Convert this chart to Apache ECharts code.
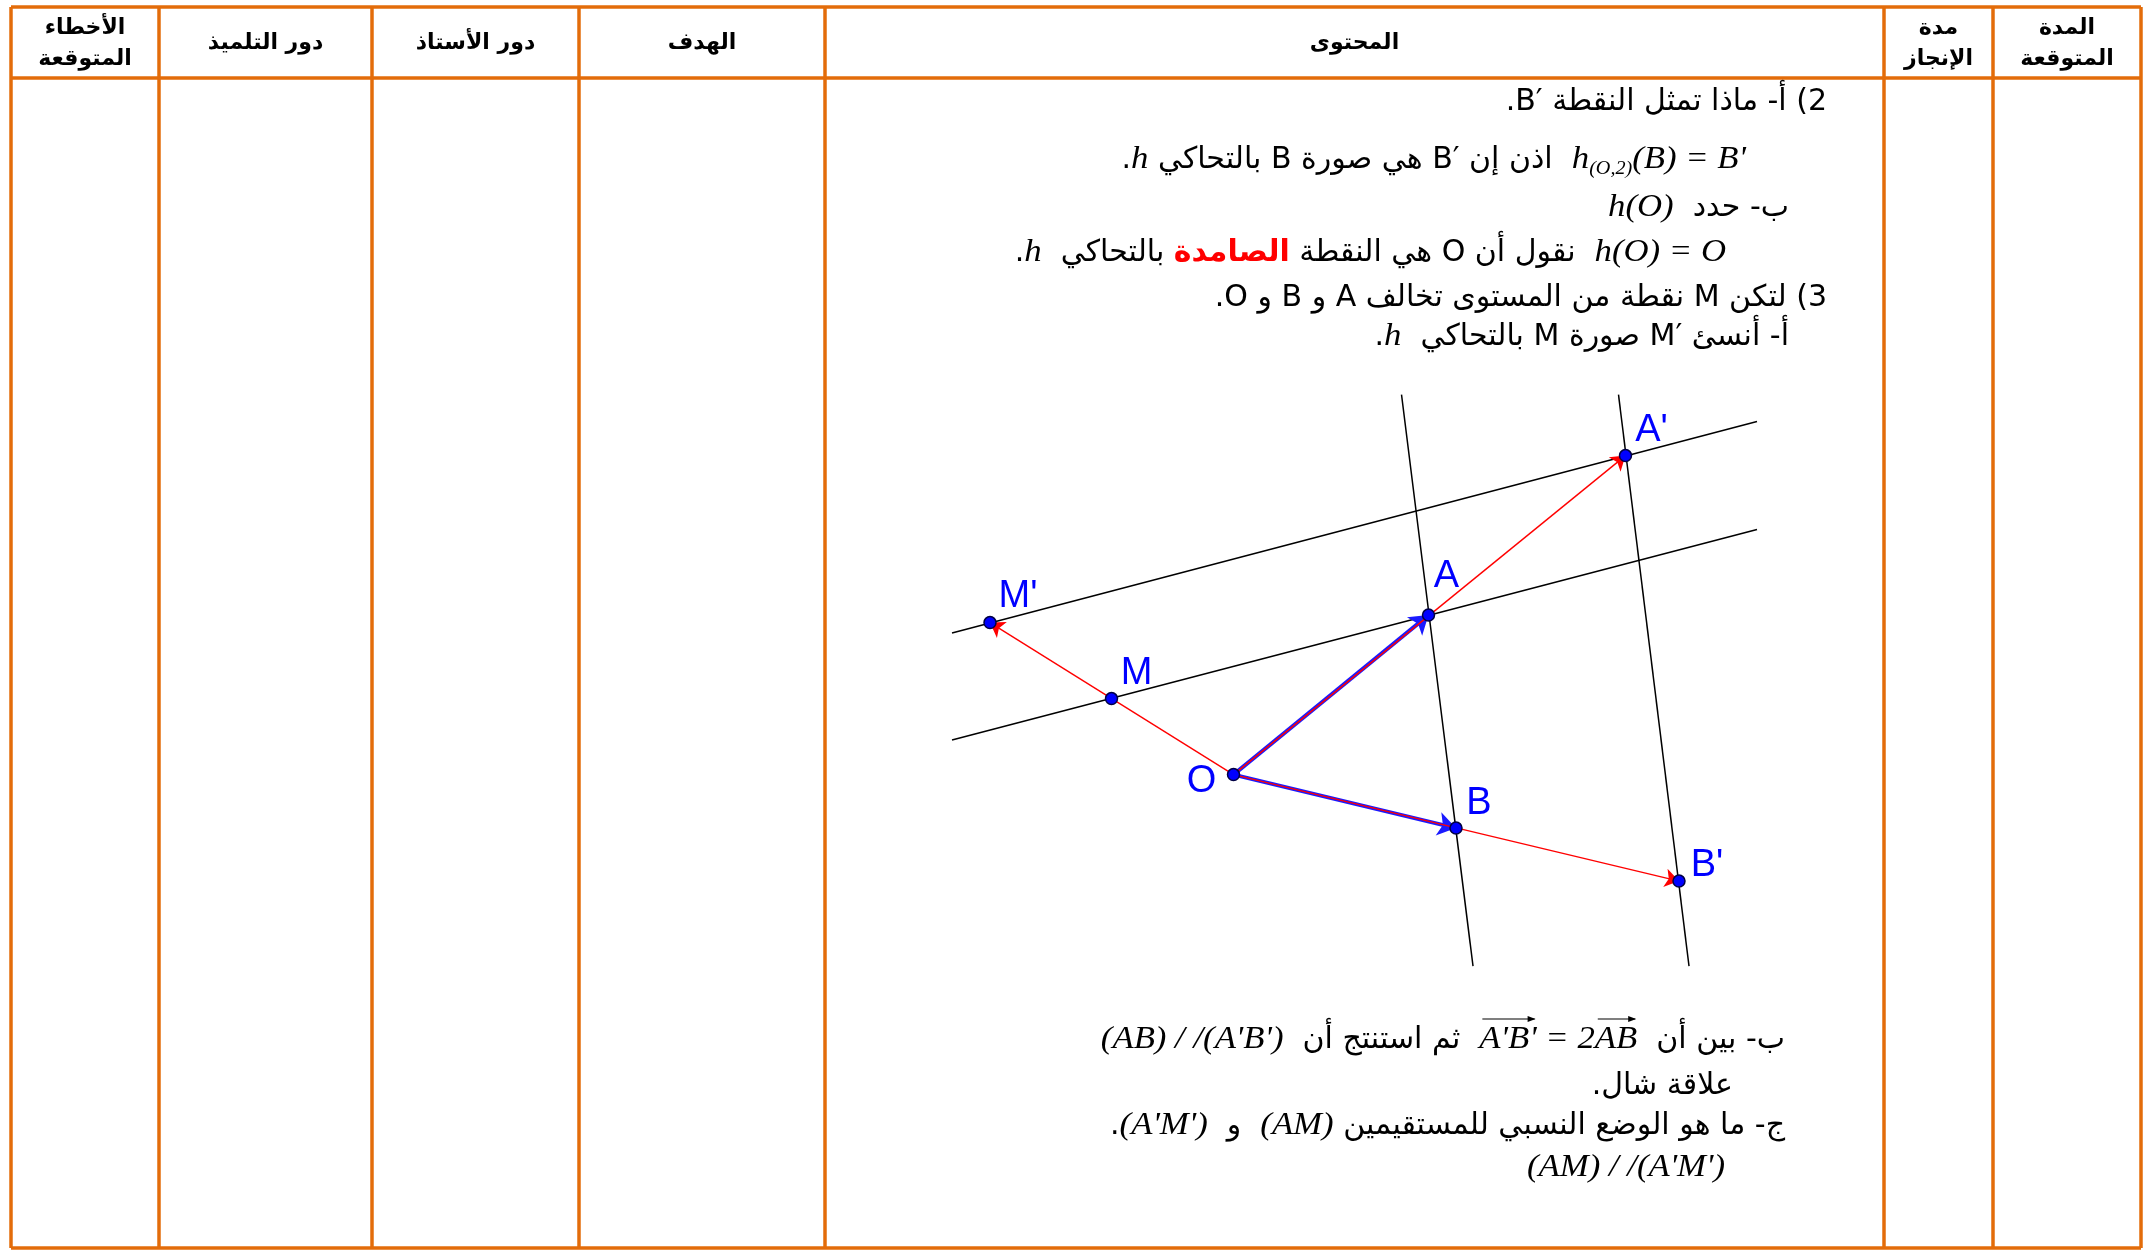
<!DOCTYPE html>
<html>
<head>
<meta charset="utf-8">
<script src="https://cdn.jsdelivr.net/npm/echarts@6/dist/echarts.min.js"></script>
<style>
html,body{margin:0;padding:0;background:#fff}
#main{width:2152px;height:1250px}
</style>
</head>
<body>
<div id="main"></div>
<script>
// نقاط الشكل (وحدة = 50px تقريبا) O هو المركز
const pointNames = ["O", "A", "B", "M", "A'", "B'", "M'"]
const pointX = [0, 3.90, 4.45, -2.44, 7.84, 8.91, -4.87]
const pointY = [0, 3.19, -1.07, 1.52, 6.38, -2.13, 3.04]
// المستقيمات: (M'A') (MA) (AB) (A'B')
const lineStart = [[-5.63, 2.83], [-5.63, 0.69], [3.36, 7.6], [7.70, 7.6]]
const lineEnd = [[10.47, 7.06], [10.47, 4.90], [4.79, -3.83], [9.11, -3.83]]
// الأشعة
const redVectors = [["O", "A'"], ["O", "B'"], ["O", "M'"]]
const blueVectors = [["O", "A"], ["O", "B"]]
// عناوين الجدول
const headers = ["الأخطاء\nالمتوقعة", "دور التلميذ", "دور الأستاذ", "الهدف", "المحتوى", "مدة\nالإنجاز", "المدة\nالمتوقعة"]

// تخطيط
const colX = [11, 159, 372, 579, 825, 1884, 1993, 2141]
const tableTop = 7, headBottom = 78, tableBottom = 1248
const orange = "#E36C0A"
const labelOffset = {"O": [-32, 7], "A": [18, -39], "B": [23, -25], "M": [25, -25], "A'": [26, -25], "B'": [28, -16], "M'": [28, -26]}

const STY = {
	ar: {font: '30px "DejaVu Sans"', color: "#000"},
	red: {font: 'bold 30px "DejaVu Sans"', color: "#ff0000"},
	m: {font: 'italic 31px "Liberation Serif"', color: "#000", sx: 1.12},
	sub: {font: 'italic 18px "Liberation Serif"', color: "#000", sx: 1.12, dy: 9},
	vec: {font: 'italic 31px "Liberation Serif"', color: "#000", sx: 1.12, vec: true}
}

// أسطر المحتوى (ترتيب بصري من اليسار إلى اليمين)
const contentLines = [
	{right: 1827, y: 102, t: [[".B\u2032 ", "ar"], ["أ- ماذا تمثل النقطة", "ar"], [" (2", "ar"]]},
	{right: 1746, y: 160, t: [[".", "ar"], ["h", "m"], [" بالتحاكي ", "ar"], ["B", "ar"], [" هي صورة ", "ar"], ["B\u2032", "ar"], [" اذن إن  ", "ar"], ["h", "m"], ["(O,2)", "sub"], ["(B) = B'", "m"]]},
	{right: 1789, y: 208, t: [["h(O)", "m"], ["  ب- حدد", "ar"]]},
	{right: 1726, y: 253, t: [[".", "ar"], ["h", "m"], ["  بالتحاكي ", "ar"], ["الصامدة", "red"], [" هي النقطة ", "ar"], ["O", "ar"], [" نقول أن  ", "ar"], ["h(O) = O", "m"]]},
	{right: 1827, y: 298, t: [[".O ", "ar"], ["و", "ar"], [" B ", "ar"], ["و", "ar"], [" A ", "ar"], ["نقطة من المستوى تخالف", "ar"], [" M ", "ar"], ["لتكن", "ar"], [" (3", "ar"]]},
	{right: 1789, y: 337, t: [[".", "ar"], ["h", "m"], ["  بالتحاكي ", "ar"], ["M", "ar"], [" صورة ", "ar"], ["M\u2032", "ar"], [" أ- أنسئ", "ar"]]},
	{right: 1785, y: 1040, t: [["(AB) / /(A'B')", "m"], ["  ثم استنتج أن  ", "ar"], ["A'B'", "vec"], [" = 2", "m"], ["AB", "vec"], ["  ب- بين أن", "ar"]]},
	{right: 1733, y: 1086, t: [[".", "ar"], ["علاقة شال", "ar"]]},
	{right: 1785, y: 1126, t: [[".", "ar"], ["(A'M')", "m"], ["  و  ", "ar"], ["(AM)", "m"], [" ج- ما هو الوضع النسبي للمستقيمين", "ar"]]},
	{right: 1725, y: 1168, t: [["(AM) / /(A'M')", "m"]]}
]

const mctx = document.createElement("canvas").getContext("2d")
function layoutLine(line){
	const els = []
	let x = line.right
	for(let i = line.t.length - 1; i >= 0; i--){
		const txt = line.t[i][0], st = STY[line.t[i][1]]
		const sx = st.sx || 1
		mctx.font = st.font
		const w = mctx.measureText(txt).width * sx
		x -= w
		els.push({
			type: "text", x: x, y: line.y + (st.dy || 0), scaleX: sx, z: 10,
			style: {text: txt, font: st.font, fill: st.color, textAlign: "left", textVerticalAlign: "middle", align: "left", verticalAlign: "middle"}
		})
		if(st.vec){
			const y0 = line.y - 21
			els.push({type: "line", z: 10, shape: {x1: x + 3, y1: y0, x2: x + w - 2, y2: y0}, style: {stroke: "#000", lineWidth: 1.2}})
			els.push({type: "polygon", z: 10, shape: {points: [[x + w - 1, y0], [x + w - 9, y0 - 3], [x + w - 9, y0 + 3]]}, style: {fill: "#000"}})
		}
	}
	return els
}

let graphic = []
// إطار الجدول
colX.forEach(x => graphic.push({type: "line", shape: {x1: x, y1: tableTop, x2: x, y2: tableBottom}, style: {stroke: orange, lineWidth: 3.5}}))
;[tableTop, headBottom, tableBottom].forEach(y => graphic.push({type: "line", shape: {x1: colX[0], y1: y, x2: colX[colX.length - 1], y2: y}, style: {stroke: orange, lineWidth: 3.5}}))
headers.forEach((h, i) => {
	graphic.push({
		type: "text", x: (colX[i] + colX[i + 1]) / 2, y: (tableTop + headBottom) / 2 + 1,
		style: {text: h, font: 'bold 22px "DejaVu Sans"', fill: "#000", lineHeight: 31, textAlign: "center", textVerticalAlign: "middle", align: "center", verticalAlign: "middle"}
	})
})
contentLines.forEach(line => { graphic = graphic.concat(layoutLine(line)) })

const P = {}
pointNames.forEach((n, i) => P[n] = [pointX[i], pointY[i]])

const chart = echarts.init(document.getElementById("main"), null, {renderer: "canvas"})
chart.setOption({
	animation: false,
	backgroundColor: "#fff",
	grid: {left: 933.5, top: 374.6, width: 850, height: 600},
	xAxis: {type: "value", min: -6, max: 11, show: false},
	yAxis: {type: "value", min: -4, max: 8, show: false},
	graphic: graphic,
	series: [
		{
			type: "lines", coordinateSystem: "cartesian2d", z: 1,
			symbol: "none",
			lineStyle: {color: "#000", width: 1.5, opacity: 1},
			data: lineStart.map((s, i) => ({coords: [s, lineEnd[i]]}))
		},
		{
			type: "lines", coordinateSystem: "cartesian2d", z: 2,
			symbol: ["none", "arrow"], symbolSize: 18,
			lineStyle: {color: "#1a1aff", width: 4, opacity: 1},
			data: blueVectors.map(v => ({coords: [P[v[0]], P[v[1]]]}))
		},
		{
			type: "lines", coordinateSystem: "cartesian2d", z: 3,
			symbol: ["none", "arrow"], symbolSize: 14,
			lineStyle: {color: "#ff0000", width: 1.4, opacity: 1},
			data: redVectors.map(v => ({coords: [P[v[0]], P[v[1]]]}))
		},
		{
			type: "scatter", z: 4,
			symbolSize: 12,
			itemStyle: {color: "#0000ff", borderColor: "#000044", borderWidth: 1.5, opacity: 1},
			label: {
				show: true, position: "inside", color: "#0000ff",
				fontFamily: "Liberation Sans", fontSize: 38,
				formatter: p => p.name
			},
			data: pointNames.map((n, i) => ({name: n, value: [pointX[i], pointY[i]], label: {offset: labelOffset[n]}}))
		}
	]
})
</script>
</body>
</html>
